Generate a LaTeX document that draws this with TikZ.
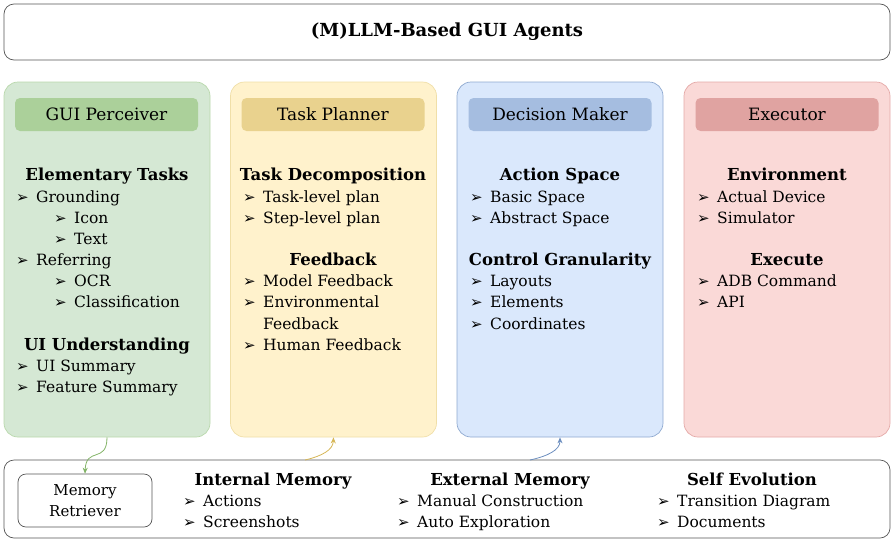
\documentclass[tikz,border=0pt]{standalone}
\usepackage{fontspec}
\setmainfont{DejaVu Serif}
\newfontfamily\arrfont{DejaVu Sans}
\usetikzlibrary{arrows.meta,positioning}

\definecolor{percfill}{HTML}{D5E8D4}
\definecolor{perchead}{HTML}{ABD09A}
\definecolor{percline}{HTML}{B9D8AC}
\definecolor{planfill}{HTML}{FFF2CC}
\definecolor{planhead}{HTML}{E9D28E}
\definecolor{planline}{HTML}{F0DFA8}
\definecolor{decfill}{HTML}{DAE8FC}
\definecolor{dechead}{HTML}{A5BDE0}
\definecolor{decline}{HTML}{8FA9D0}
\definecolor{exefill}{HTML}{FAD9D7}
\definecolor{exehead}{HTML}{E0A3A1}
\definecolor{exeline}{HTML}{E4A9A7}
\definecolor{frameline}{HTML}{555555}
\definecolor{perclink}{HTML}{82B366}
\definecolor{planlink}{HTML}{D6B656}
\definecolor{declink}{HTML}{6C8EBF}

\tikzset{
  colbox/.style={draw, line width=0.7pt, rounded corners=14pt,
                 minimum width=206pt, minimum height=355pt},
  headbox/.style={rounded corners=5pt, minimum width=183pt,
                  minimum height=33pt, font=\fontsize{17}{20}\selectfont},
  head/.style={anchor=base, inner sep=0pt,
               font=\bfseries\fontsize{16.5}{19}\selectfont},
  itm/.style={anchor=base west, inner sep=0pt,
              font=\fontsize{15.5}{18}\selectfont},
  blt/.style={anchor=base west, inner sep=0pt,
              font=\arrfont\fontsize{15}{16}\selectfont},
  wide/.style={draw=frameline, line width=0.7pt, rounded corners=10pt,
               minimum width=886pt},
  link/.style={-{Stealth[length=6pt,width=5pt]}, line width=0.8pt}
}

\newcommand{\bitem}[4]{%
  \node[blt] (#1b) at (#2,#3) {➢};
  \node[itm] (#1)  at ({#2+20},#3) {#4};
}

\begin{document}
\begin{tikzpicture}[x=1pt,y=-1pt]
  \useasboundingbox (0,0) rectangle (894,544);

  % title
  \node[wide, minimum height=56pt,
        font=\bfseries\fontsize{18}{21}\selectfont] (title) at (447,32)
        {(M)LLM-Based GUI Agents};

  % the four modules
  \node[colbox, fill=percfill, draw=percline] (perc) at (107,259.5) {};
  \node[colbox, fill=planfill, draw=planline] (plan) at (333.5,259.5) {};
  \node[colbox, fill=decfill,  draw=decline]  (dec)  at (560,259.5) {};
  \node[colbox, fill=exefill,  draw=exeline]  (exe)  at (787,259.5) {};

  \node[headbox, fill=perchead] (perch) at (106.5,114.5) {GUI Perceiver};
  \node[headbox, fill=planhead] (planh) at (333,114.5)   {Task Planner};
  \node[headbox, fill=dechead]  (dech)  at (560,114.5)   {Decision Maker};
  \node[headbox, fill=exehead]  (exeh)  at (787,114.5)   {Executor};

  % GUI perceiver
  \node[head] (pet) at (107,180) {Elementary Tasks};
  \bitem{pg}{16}{202}{Grounding}
  \bitem{pi}{54}{223}{Icon}
  \bitem{pt}{54}{244}{Text}
  \bitem{pr}{16}{265}{Referring}
  \bitem{po}{54}{286}{OCR}
  \bitem{pc}{54}{307}{Classification}
  \node[head] (pui) at (107,350) {UI Understanding};
  \bitem{pus}{16}{371}{UI Summary}
  \bitem{pfs}{16}{392}{Feature Summary}

  % task planner
  \node[head] (ptd) at (333,180) {Task Decomposition};
  \bitem{tl}{243}{202}{Task-level plan}
  \bitem{sl}{243}{223}{Step-level plan}
  \node[head] (pfb) at (333,265) {Feedback};
  \bitem{mf}{243}{286}{Model Feedback}
  \bitem{ef}{243}{307}{Environmental}
  \node[itm] (ef2) at (263,329) {Feedback};
  \bitem{hf}{243}{350}{Human Feedback}

  % decision maker
  \node[head] (das) at (560,180) {Action Space};
  \bitem{bs}{470}{202}{Basic Space}
  \bitem{as}{470}{223}{Abstract Space}
  \node[head] (dcg) at (560,265) {Control Granularity};
  \bitem{lay}{470}{286}{Layouts}
  \bitem{ele}{470}{307}{Elements}
  \bitem{coo}{470}{329}{Coordinates}

  % executor
  \node[head] (xen) at (787,180) {Environment};
  \bitem{ad}{697}{202}{Actual Device}
  \bitem{sim}{697}{223}{Simulator}
  \node[head] (xex) at (787,265) {Execute};
  \bitem{adb}{697}{286}{ADB Command}
  \bitem{api}{697}{307}{API}

  % memory
  \node[wide, minimum height=78pt] (mem) at (447,499) {};
  \node[draw=frameline, line width=0.7pt, rounded corners=8pt,
        minimum width=134pt, minimum height=53pt, align=center,
        font=\fontsize{15}{21}\selectfont] (retr) at (85,500.5)
        {Memory\\Retriever};

  \node[head] (im) at (273,485) {Internal Memory};
  \bitem{act}{183}{506}{Actions}
  \bitem{scr}{183}{527}{Screenshots}
  \node[head] (em) at (510,485) {External Memory};
  \bitem{mc}{397}{506}{Manual Construction}
  \bitem{ae}{397}{527}{Auto Exploration}
  \node[head] (se) at (752,485) {Self Evolution};
  \bitem{td}{657}{506}{Transition Diagram}
  \bitem{doc}{657}{527}{Documents}

  \coordinate (m1) at (305,460);
  \coordinate (m2) at (530,460);

  \draw[link, perclink]
    (perc.south) .. controls (107,464) and (86,446) .. (retr.north);
  \draw[link, planlink]
    (m1) .. controls (322,456) and (333,450) .. (plan.south);
  \draw[link, declink]
    (m2) .. controls (548,456) and (560,450) .. (dec.south);
\end{tikzpicture}
\end{document}
